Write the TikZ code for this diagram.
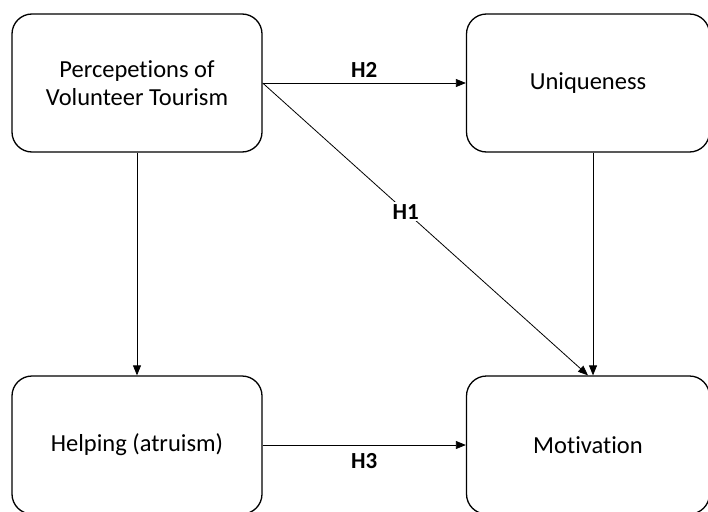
\documentclass[tikz,border=0pt]{standalone}
\usepackage{fontspec}
\setmainfont{Carlito}[Ligatures=NoCommon]
\usetikzlibrary{arrows.meta}

\begin{document}
\begin{tikzpicture}[x=1pt,y=-1pt,
    box/.style={draw,line width=1.3pt,rounded corners=20pt,minimum height=138pt,
      align=center,font=\fontsize{24.5}{28}\selectfont,inner sep=0pt},
    link/.style={line width=0.8pt,-{Triangle[length=10pt,width=8pt]}},
    hypo/.style={font=\fontsize{23}{27}\selectfont\bfseries,inner sep=2pt}]

   \useasboundingbox (0,0) rectangle (708,511);

\node[box,minimum width=250pt] (percep) at (137,83) {Percepetions of\\Volunteer Tourism};
\node[box,minimum width=243pt] (unique) at (588,83) {Uniqueness};
\node[box,minimum width=250pt] (helping) at (137,445) {Helping (atruism)};
\node[box,minimum width=243pt] (motiv) at (588,445) {Motivation};

\draw[link] (percep.east) -- (unique.west) node[hypo,midway,above=3pt] {H2};
\draw[link] (percep.east) -- (motiv.north) node[hypo,pos=0.44,fill=white] {H1};
\draw[link] ([xshift=5pt]unique.south) -- ([xshift=5pt]motiv.north);
\draw[link] (percep.south) -- (helping.north);
\draw[link] (helping.east) -- (motiv.west) node[hypo,midway,below=6pt] {H3};
    
\end{tikzpicture}
\end{document}
